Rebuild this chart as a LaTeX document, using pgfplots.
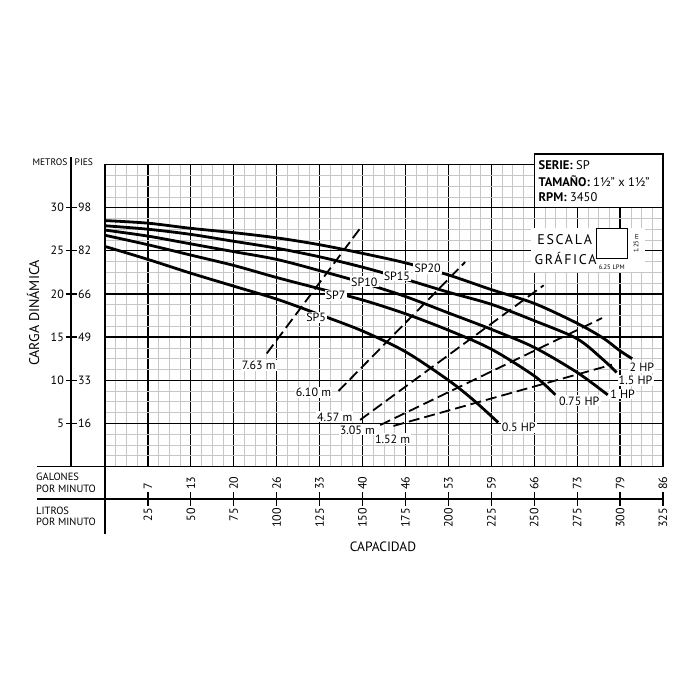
\documentclass[border=0pt]{standalone}
\usepackage{pgfplots}
\pgfplotsset{compat=1.18}
\usepackage{fontspec}
\setmainfont{PT Sans}
\newfontfamily\spaced[LetterSpace=12]{PT Sans}
\tikzset{
  lbl/.style={fill=white, inner sep=1.2pt, font=\fontsize{12}{14}\selectfont},
  curve/.style={black, line width=2.8pt, smooth, line cap=butt},
  npsh/.style={black, line width=1.8pt, dash pattern=on 11pt off 5pt},
}
\begin{document}
\begin{tikzpicture}
\path[use as bounding box] (-105pt,-233.5pt) rectangle (595pt,466.5pt);
\begin{axis}[at={(0pt,0pt)}, anchor=south west, scale only axis,
  width=558pt, height=302pt,
  xmin=0, xmax=325, ymin=0, ymax=35,
  xtick={0,25,...,325}, ytick={0,5,...,35},
  minor x tick num=3, minor y tick num=3,
  xticklabels={}, yticklabels={},
  major tick length=0pt, minor tick length=0pt,
  grid=both,
  major grid style={black, line width=1.3pt},
  minor grid style={black!22, line width=0.6pt},
  axis line style={black, line width=1.3pt},
  clip=false,
]
% NPSH dashed lines
\addplot[npsh] coordinates {(94.2,13.1) (148.6,27.6)};
\addplot[npsh] coordinates {(136,8.75) (209.8,23.7)};
\addplot[npsh] coordinates {(148.6,5.4) (255.5,21.0)};
\addplot[npsh] coordinates {(160.3,4.8) (289.5,17.2)};
\addplot[npsh] coordinates {(168,4.7) (295.3,11.8)};
% SP20 / 2 HP
\addplot[curve] coordinates {(0,28.5) (25,28.2) (50,27.6) (75,27.1) (100,26.5) (125,25.7) (150,24.7) (175,23.6) (200,22.2) (225,20.5) (250,18.9) (275,16.6) (290,14.9) (300,13.4) (307,12.5)};
% SP15 / 1.5 HP
\addplot[curve] coordinates {(0,27.9) (25,27.5) (50,26.9) (75,26.1) (100,25.3) (125,24.3) (150,23.1) (175,21.7) (200,20.2) (225,18.8) (250,16.9) (275,14.8) (290,12.4) (298,10.9)};
% SP10 / 1 HP
\addplot[curve] coordinates {(0,27.4) (25,26.7) (50,25.8) (75,24.9) (100,24.0) (125,22.7) (150,21.3) (175,19.7) (200,17.8) (225,15.9) (250,13.8) (275,10.9) (292.8,8.3)};
% SP7 / 0.75 HP
\addplot[curve] coordinates {(0,26.8) (25,25.7) (50,24.5) (75,23.3) (100,21.9) (125,20.6) (150,19.3) (175,17.7) (200,15.8) (225,13.6) (250,10.5) (262.3,8.3)};
% SP5 / 0.5 HP
\addplot[curve] coordinates {(0,25.5) (25,24.0) (50,22.4) (75,20.9) (100,19.4) (125,17.6) (150,15.7) (175,13.3) (200,10.0) (214.6,7.7) (229,5.1)};
% curve labels
\node[lbl] at (axis cs:123,17.3) {SP5};
\node[lbl] at (axis cs:134.3,19.8) {SP7};
\node[lbl] at (axis cs:151,21.4) {SP10};
\node[lbl] at (axis cs:170,22.1) {SP15};
\node[lbl] at (axis cs:187.9,23.0) {SP20};
\node[lbl] at (axis cs:312.7,11.5) {2 HP};
\node[lbl] at (axis cs:309,10.0) {1.5 HP};
\node[lbl] at (axis cs:301.5,8.4) {1 HP};
\node[lbl] at (axis cs:276.2,7.6) {0.75 HP};
\node[lbl] at (axis cs:241,4.5) {0.5 HP};
\node[lbl] at (axis cs:89.5,11.7) {7.63 m};
\node[lbl] at (axis cs:121.4,8.55) {6.10 m};
\node[lbl] at (axis cs:133.8,5.75) {4.57 m};
\node[lbl] at (axis cs:147,4.25) {3.05 m};
\node[lbl] at (axis cs:167.5,3.2) {1.52 m};
\end{axis}
\begin{scope}[x=1pt, y=1pt]
% left scale
\draw[line width=1.3pt] (-34,0) -- (-34,309.5);
\foreach \m/\p in {5/16,10/33,15/49,20/66,25/82,30/98}{
  \pgfmathsetmacro\yy{\m*8.628571}
  \draw[line width=1.3pt] (-39.5,\yy) -- (-28.5,\yy);
  \node[anchor=east, inner sep=1pt, font=\fontsize{12}{14}\selectfont] at (-40,\yy) {\m};
  \node[anchor=west, inner sep=1pt, font=\fontsize{12}{14}\selectfont] at (-28,\yy) {\p};
}
\node[anchor=east, inner sep=1pt, font=\fontsize{9.5}{11}\selectfont] at (-36.5,304) {METROS};
\node[anchor=west, inner sep=1pt, font=\fontsize{9.5}{11}\selectfont] at (-31.5,304) {PIES};
\node[rotate=90, font=\fontsize{14}{16}\selectfont] at (-72,153.5) {CARGA DINÁMICA};
% bottom scale
\draw[line width=1.3pt] (-68,0) -- (558,0);
\draw[line width=1.3pt] (-68,-32.5) -- (558,-32.5);
\draw[line width=1.3pt] (0,0) -- (0,-67.5);
\foreach \l/\g in {25/7,50/13,75/20,100/26,125/33,150/40,175/46,200/53,225/59,250/66,275/73,300/79,325/86}{
  \pgfmathsetmacro\xx{\l*1.716923}
  \draw[line width=1.3pt] (\xx,-25.5) -- (\xx,-39.5);
  \node[rotate=90, anchor=west, inner sep=1pt, font=\fontsize{12}{14}\selectfont] at (\xx,-24.5) {\g};
  \node[rotate=90, anchor=east, inner sep=1pt, font=\fontsize{12}{14}\selectfont] at (\xx,-40.5) {\l};
}
\node[anchor=west, align=left, inner sep=0pt, font=\fontsize{10.5}{11.5}\selectfont] at (-69,-16.5) {GALONES\\POR MINUTO};
\node[anchor=west, align=left, inner sep=0pt, font=\fontsize{10.5}{11.5}\selectfont] at (-69,-50) {LITROS\\POR MINUTO};
\node[font=\fontsize{13.5}{15}\selectfont] at (278,-80.5) {CAPACIDAD};
% info box
\draw[line width=1.3pt, fill=white] (429.2,258.86) rectangle (558,312.5);
\node[anchor=west, inner sep=0pt, font=\fontsize{12.5}{14}\selectfont] at (433.5,301.5) {\textbf{SERIE:} SP};
\node[anchor=west, inner sep=0pt, font=\fontsize{12.5}{14}\selectfont] at (433.5,285) {\textbf{TAMAÑO:} 1½" x 1½"};
\node[anchor=west, inner sep=0pt, font=\fontsize{12.5}{14}\selectfont] at (433.5,269.2) {\textbf{RPM:} 3450};
% escala grafica
\fill[white] (426,194.5) rectangle (540,238.5);
\node[font=\spaced\fontsize{14}{16}\selectfont] at (459.7,226.5) {ESCALA};
\node[font=\spaced\fontsize{14}{16}\selectfont] at (460.5,208.2) {GRÁFICA};
\draw[line width=1.1pt, fill=white] (491.7,208.2) rectangle (522.7,238.2);
\node[rotate=90, inner sep=0pt, font=\fontsize{6.5}{7}\selectfont] at (531,223.2) {1.25 m};
\node[inner sep=0pt, font=\fontsize{6.5}{7}\selectfont] at (506.7,199.2) {6.25 LPM};
\end{scope}
\end{tikzpicture}
\end{document}
